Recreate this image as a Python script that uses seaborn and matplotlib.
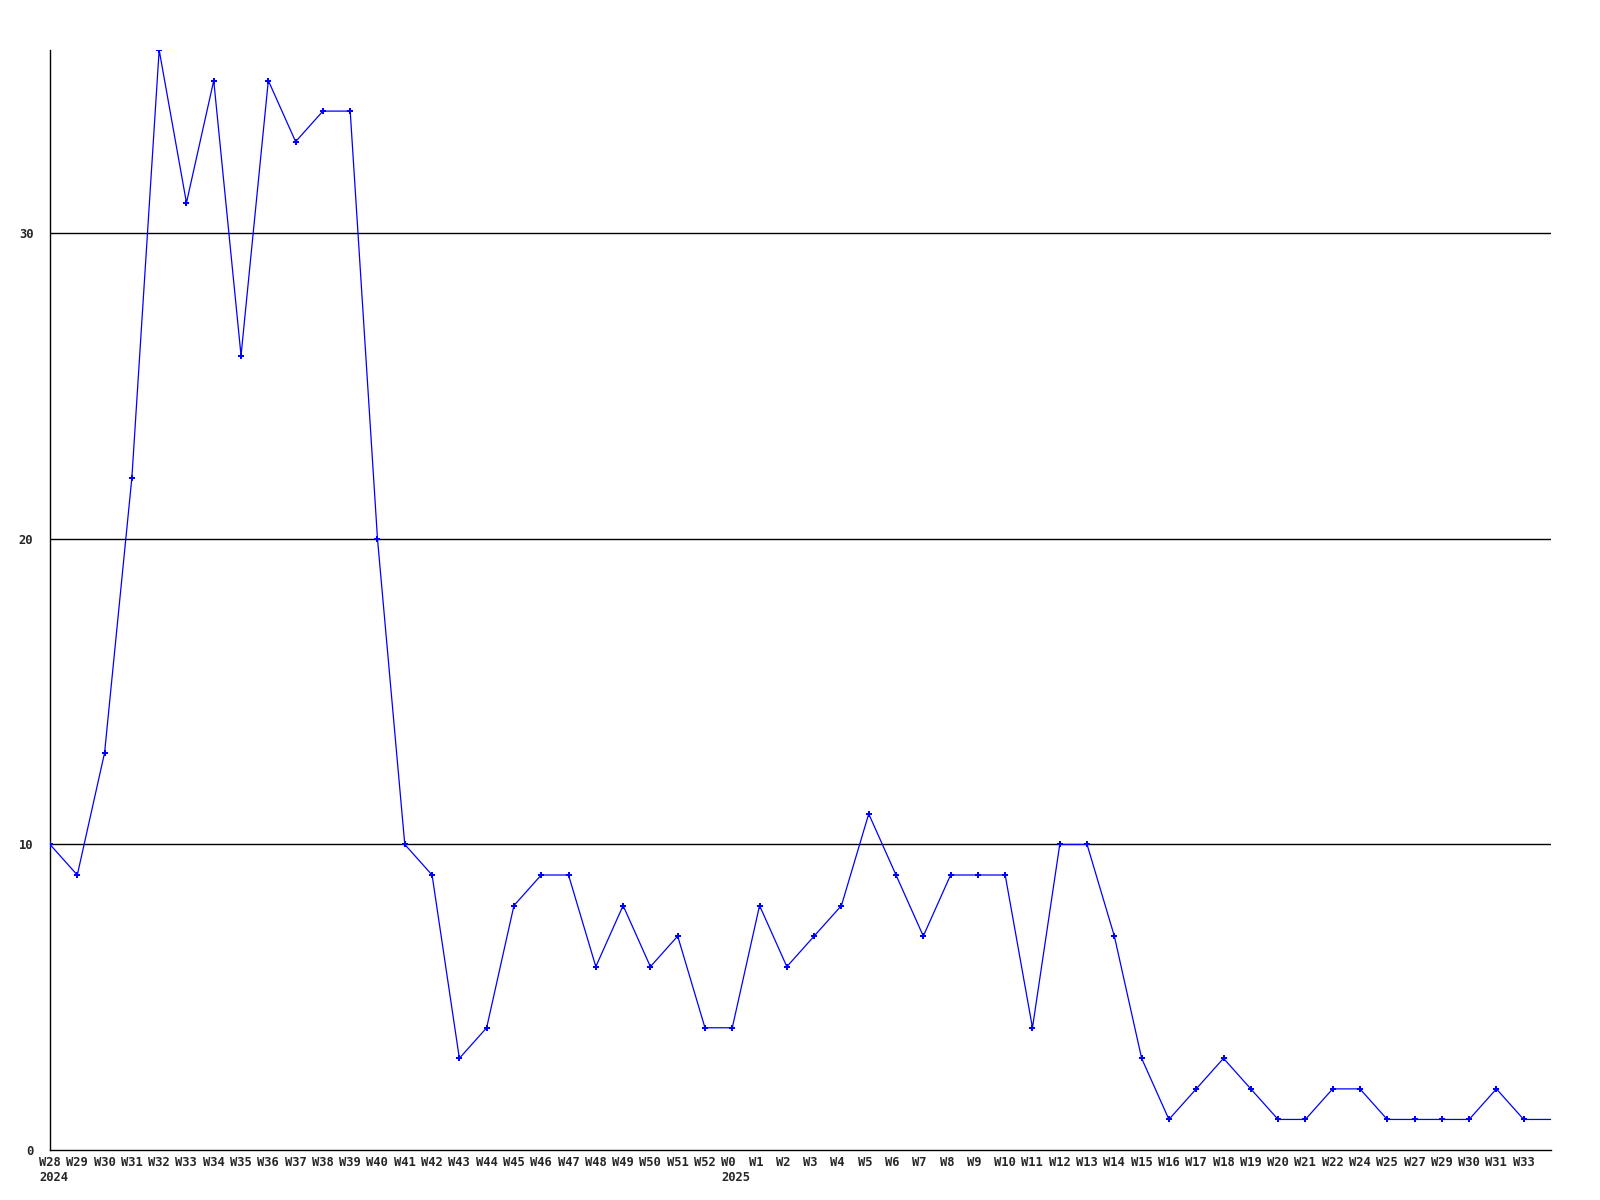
import matplotlib
matplotlib.use("Agg")
import matplotlib.pyplot as plt
import matplotlib.transforms as mtransforms
import numpy as np
import pandas as pd
import seaborn as sns

# week labels on the x axis (the last point has no label)
weeks = ['W28', 'W29', 'W30', 'W31', 'W32', 'W33', 'W34', 'W35', 'W36', 'W37',
         'W38', 'W39', 'W40', 'W41', 'W42', 'W43', 'W44', 'W45', 'W46', 'W47',
         'W48', 'W49', 'W50', 'W51', 'W52', 'W0', 'W1', 'W2', 'W3', 'W4',
         'W5', 'W6', 'W7', 'W8', 'W9', 'W10', 'W11', 'W12', 'W13', 'W14',
         'W15', 'W16', 'W17', 'W18', 'W19', 'W20', 'W21', 'W22', 'W24', 'W25',
         'W27', 'W29', 'W30', 'W31', 'W33', '']
counts = [10, 9, 13, 22, 36, 31, 35, 26, 35, 33,
          34, 34, 20, 10, 9, 3, 4, 8, 9, 9,
          6, 8, 6, 7, 4, 4, 8, 6, 7, 8,
          11, 9, 7, 9, 9, 9, 4, 10, 10, 7,
          3, 1, 2, 3, 2, 1, 1, 2, 2, 1,
          1, 1, 1, 2, 1, 1]
# year markers under the first week of each year
years = {'W28': '2024', 'W0': '2025'}
y_ticks = [0, 10, 20, 30]

df = pd.DataFrame({'pos': np.arange(len(counts)), 'count': counts})

sns.set_style("white")
plt.rcParams['font.family'] = ['DejaVu Sans Mono']

fig = plt.figure(figsize=(16, 12), dpi=100)
ax = fig.add_axes([50 / 1600, 50 / 1200, 1501 / 1600, 1100 / 1200])

for yv in y_ticks[1:]:
    ax.axhline(yv, color='black', linewidth=1.0, zorder=1)

sns.lineplot(data=df, x='pos', y='count', ax=ax, color='#0000ff', linewidth=0.9,
             marker='P', markersize=4.5, markeredgewidth=0, markevery=list(range(len(counts) - 1)),
             zorder=3)

ax.set_xlim(0, len(counts) - 1)
ax.set_ylim(0, 36)
ax.set_xticks(np.arange(len(weeks) - 1))
ax.set_xticklabels(weeks[:-1], fontsize=8.7, fontweight='bold', ha='left')
ax.set_yticks(y_ticks)
ax.set_yticklabels([str(v) for v in y_ticks], fontsize=8.7, fontweight='bold')
ax.tick_params(axis='x', length=0, pad=4)
ax.tick_params(axis='y', length=0, pad=12)
ax.set_xlabel('')
ax.set_ylabel('')

# week labels start a little left of their point
shift = mtransforms.ScaledTranslation(-11 / 100, 0, fig.dpi_scale_trans)
for lab in ax.get_xticklabels():
    lab.set_transform(lab.get_transform() + shift)

trans = mtransforms.blended_transform_factory(ax.transData, ax.transAxes)
for i, w in enumerate(weeks):
    if w in years:
        ax.annotate(years[w], xy=(i, 0), xycoords=trans, xytext=(-11, -21),
                    textcoords='offset pixels', ha='left', va='top',
                    fontsize=8.7, fontweight='bold')

sns.despine(ax=ax, top=True, right=True)
for s in ['left', 'bottom']:
    ax.spines[s].set_color('black')
    ax.spines[s].set_linewidth(1.0)

fig.savefig('out.png', dpi=100)
